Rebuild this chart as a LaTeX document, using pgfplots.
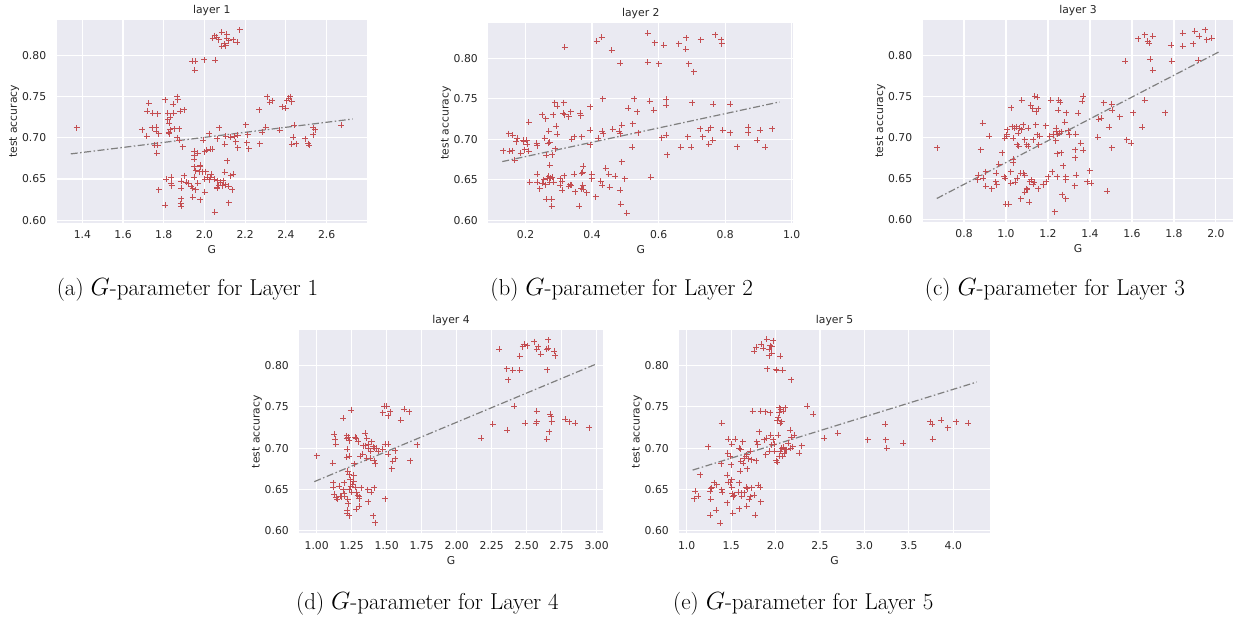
\documentclass[border=0pt]{standalone}
\usepackage{pgfplots}
\pgfplotsset{compat=1.18}
\usepackage{fontspec}
\newfontfamily\dejavu{DejaVu Sans}

\definecolor{sbbg}{HTML}{EAEAF2}
\definecolor{sbred}{HTML}{C44E52}
\definecolor{sbtext}{HTML}{262626}
\definecolor{sbgray}{HTML}{7F7F7F}

\newcommand\sbfont{\dejavu\fontsize{10.8}{13}\selectfont}

\pgfplotsset{
  sb/.style={
    scale only axis,
    axis background/.style={fill=sbbg},
    axis line style={draw=none},
    major tick length=0pt,
    grid=major,
    grid style={white, line width=1.2pt},
    ymin=0.597, ymax=0.843,
    ytick={0.60,0.65,0.70,0.75,0.80},
    /pgf/number format/assume math mode=true,
    tick label style={font=\sbfont, text=sbtext},
    yticklabel style={anchor=east, xshift=-7pt,
      /pgf/number format/fixed, /pgf/number format/fixed zerofill,
      /pgf/number format/precision=2},
    xticklabel style={anchor=base, yshift=-16.3pt,
      /pgf/number format/fixed, /pgf/number format/fixed zerofill},
    every axis title/.style={at={(0.5,1)}, anchor=base, yshift=6.7pt,
      font=\sbfont, text=sbtext},
    every axis x label/.style={at={(0.5,0)}, anchor=base, yshift=-31pt,
      font=\sbfont, text=sbtext},
    every axis y label/.style={at={(0,0.5)}, xshift=-39.7pt, rotate=90, anchor=base,
      font=\sbfont, text=sbtext},
    xlabel={G}, ylabel={test accuracy},
  },
  pts/.style={only marks, mark=+, mark size=3pt, color=sbred,
    mark options={line width=0.9pt}},
  fit/.style={no marks, sbgray, line width=1.2pt,
    dash pattern=on 7pt off 2.5pt on 1.5pt off 2.5pt},
}

\begin{document}
\begin{tikzpicture}
\useasboundingbox (0,0) rectangle (1235pt,619pt);

% layer 1
\begin{axis}[sb, at={(56.7pt,396.3pt)}, anchor=south west,
  width=310pt, height=202.7pt, xmin=1.274, xmax=2.797,
  xtick={1.4,1.6,1.8,2.0,2.2,2.4,2.6},
  xticklabel style={/pgf/number format/precision=1}, title={layer 1}]
\addplot[pts] coordinates {
(2.174,0.831) (2.085,0.828) (2.05,0.824) (2.06,0.822) (2.11,0.826) (2.11,0.821) (2.04,0.821)
(2.07,0.819) (2.12,0.818) (2.14,0.819) (2.16,0.816) (2.085,0.811) (2.105,0.812) (2.10,0.814)
(1.94,0.793) (1.955,0.793) (1.998,0.795) (2.053,0.794) (1.953,0.782)
(1.865,0.750) (1.868,0.746) (1.806,0.746) (1.727,0.742) (1.847,0.741) (1.719,0.732) (1.746,0.730)
(1.771,0.729) (1.82,0.730) (1.849,0.730) (1.880,0.732) (1.90,0.734) (1.82,0.722) (1.831,0.725)
(1.828,0.718) (1.693,0.710) (1.742,0.712) (1.763,0.713) (1.716,0.702) (1.763,0.708) (1.775,0.705)
(1.824,0.707) (1.831,0.710) (1.852,0.711) (1.876,0.711) (1.865,0.700) (1.876,0.697) (1.893,0.689)
(1.756,0.691) (1.771,0.691) (1.766,0.681) (1.828,0.705)
(1.372,0.712)
(2.268,0.734) (2.307,0.750) (2.32,0.743) (2.332,0.745) (2.381,0.738) (2.40,0.736) (2.405,0.745)
(2.415,0.748) (2.421,0.750) (2.429,0.744) (2.202,0.716) (2.30,0.713) (2.283,0.707) (2.369,0.709)
(2.272,0.693) (2.213,0.704) (2.207,0.694) (2.218,0.687) (2.44,0.715) (2.437,0.701) (2.429,0.692)
(2.45,0.693) (2.494,0.699) (2.51,0.693) (2.515,0.691) (2.535,0.712) (2.543,0.710) (2.535,0.704)
(2.673,0.715) (2.164,0.703) (2.164,0.688) (2.145,0.702) (2.153,0.695) (2.128,0.701) (2.104,0.702)
(2.072,0.712) (2.023,0.705) (2.063,0.699) (1.995,0.697) (2.099,0.692) (2.01,0.685) (2.028,0.686)
(2.039,0.686) (2.002,0.683) (1.95,0.684) (1.95,0.679) (1.966,0.681) (1.95,0.674) (2.112,0.672)
(1.979,0.667) (1.979,0.665) (1.95,0.665) (1.958,0.660) (1.975,0.659) (1.99,0.659) (2.007,0.659)
(2.099,0.658) (2.128,0.654) (2.14,0.656) (1.90,0.654) (1.836,0.652) (1.811,0.650) (1.95,0.652)
(2.015,0.652) (2.031,0.652) (2.034,0.656) (2.047,0.650) (2.002,0.650) (2.023,0.649) (1.887,0.647)
(1.911,0.646) (1.919,0.645) (1.966,0.645) (2.063,0.648) (2.079,0.646) (2.092,0.648) (1.836,0.645)
(1.839,0.642) (2.071,0.642) (2.104,0.643) (2.12,0.641) (1.935,0.641) (1.943,0.639) (1.887,0.639)
(2.063,0.639) (2.087,0.642) (2.136,0.637) (1.958,0.637) (1.776,0.637) (2.002,0.634) (2.063,0.640)
(1.943,0.628) (1.887,0.626) (1.883,0.620) (1.887,0.617) (1.979,0.625) (1.808,0.618) (2.12,0.621)
(2.05,0.610)
};
\addplot[fit] coordinates {(1.343,0.6805) (2.728,0.7228)};
\end{axis}

% layer 2
\begin{axis}[sb, at={(488.3pt,396.3pt)}, anchor=south west,
  width=305pt, height=199.4pt, xmin=0.088, xmax=1.005,
  xtick={0.2,0.4,0.6,0.8,1.0},
  xticklabel style={/pgf/number format/precision=1}, title={layer 2}]
\addplot[pts] coordinates {
(0.567,0.831) (0.318,0.8135) (0.414,0.821) (0.429,0.826) (0.459,0.810) (0.484,0.794) (0.567,0.795)
(0.588,0.819) (0.615,0.816) (0.601,0.793) (0.661,0.818) (0.683,0.825) (0.681,0.811) (0.691,0.793)
(0.706,0.783) (0.726,0.823) (0.771,0.829) (0.788,0.823) (0.790,0.818)
(0.288,0.745) (0.315,0.745) (0.295,0.741) (0.432,0.750) (0.527,0.750) (0.573,0.747) (0.623,0.749)
(0.623,0.742) (0.701,0.745) (0.765,0.743) (0.815,0.743) (0.395,0.740) (0.509,0.738) (0.536,0.734)
(0.585,0.736) (0.336,0.734) (0.313,0.732) (0.318,0.730) (0.330,0.728) (0.364,0.732) (0.366,0.729)
(0.250,0.730) (0.283,0.730) (0.260,0.725) (0.210,0.721) (0.292,0.716) (0.270,0.710) (0.295,0.706)
(0.347,0.703) (0.369,0.703) (0.339,0.700) (0.394,0.711) (0.431,0.710) (0.434,0.707) (0.462,0.712)
(0.482,0.710) (0.489,0.717) (0.522,0.719) (0.539,0.708) (0.484,0.707) (0.419,0.701) (0.394,0.693)
(0.521,0.690) (0.489,0.672)
(0.133,0.686) (0.150,0.707) (0.152,0.685) (0.160,0.686) (0.162,0.705) (0.175,0.701) (0.172,0.697)
(0.168,0.674) (0.185,0.683) (0.193,0.699) (0.195,0.697) (0.203,0.699) (0.205,0.694) (0.198,0.687)
(0.210,0.685) (0.233,0.695) (0.235,0.692) (0.257,0.701) (0.272,0.696) (0.268,0.695) (0.290,0.688)
(0.262,0.680) (0.280,0.681) (0.272,0.668)
(0.610,0.702) (0.623,0.705) (0.626,0.681) (0.666,0.690) (0.688,0.703) (0.698,0.690) (0.725,0.713)
(0.733,0.703) (0.751,0.694) (0.749,0.711) (0.757,0.714) (0.763,0.699) (0.793,0.711) (0.815,0.708)
(0.837,0.691) (0.870,0.715) (0.870,0.708) (0.897,0.699) (0.905,0.711) (0.920,0.690) (0.942,0.713)
(0.213,0.647) (0.235,0.647) (0.235,0.657) (0.243,0.639) (0.250,0.646) (0.255,0.650) (0.260,0.644)
(0.265,0.652) (0.270,0.654) (0.275,0.652) (0.273,0.647) (0.285,0.647) (0.280,0.653) (0.262,0.626)
(0.278,0.626) (0.278,0.617) (0.305,0.651) (0.310,0.648) (0.305,0.643) (0.310,0.637) (0.317,0.655)
(0.330,0.642) (0.335,0.644) (0.338,0.643) (0.347,0.657) (0.350,0.635) (0.369,0.658) (0.372,0.659)
(0.374,0.667) (0.372,0.643) (0.367,0.639) (0.374,0.638) (0.362,0.617) (0.384,0.634) (0.399,0.657)
(0.399,0.651) (0.411,0.629) (0.426,0.648) (0.431,0.643) (0.441,0.664) (0.450,0.657) (0.453,0.641)
(0.470,0.654) (0.485,0.637) (0.486,0.620) (0.498,0.651) (0.504,0.609) (0.576,0.653)
};
\addplot[fit] coordinates {(0.130,0.6724) (0.964,0.746)};
\end{axis}

% layer 3
\begin{axis}[sb, at={(922.7pt,397.3pt)}, anchor=south west,
  width=310.6pt, height=201.7pt, xmin=0.603, xmax=2.083,
  xtick={0.8,1.0,1.2,1.4,1.6,1.8,2.0},
  xticklabel style={/pgf/number format/precision=1}, title={layer 3}]
\addplot[pts] coordinates {
(1.948,0.831) (1.900,0.829) (1.842,0.827) (1.921,0.823) (1.956,0.819) (1.981,0.821) (1.892,0.814)
(1.842,0.811) (1.786,0.812) (1.660,0.825) (1.631,0.820) (1.675,0.817) (1.683,0.815) (1.699,0.823)
(1.568,0.793) (1.688,0.795) (1.699,0.782) (1.789,0.793) (1.916,0.794)
(1.660,0.745) (1.648,0.712) (1.607,0.730) (1.575,0.697) (1.596,0.693) (1.759,0.730) (1.504,0.740)
(1.506,0.733) (1.465,0.742) (1.541,0.725) (1.441,0.722) (1.453,0.723) (1.493,0.712) (1.438,0.700)
(1.504,0.687) (1.481,0.634)
(0.673,0.687) (0.889,0.717) (0.879,0.685) (0.920,0.701) (0.983,0.681) (1.026,0.736) (1.030,0.713)
(1.042,0.711) (0.994,0.699) (1.003,0.701) (1.006,0.709) (1.003,0.703) (1.034,0.699) (1.050,0.713)
(1.058,0.705) (1.066,0.711) (1.053,0.691) (1.061,0.689) (1.074,0.709) (1.082,0.715) (1.074,0.745)
(1.106,0.711) (1.090,0.697) (1.098,0.691) (1.106,0.689) (1.117,0.739) (1.128,0.735) (1.129,0.697)
(1.137,0.750) (1.148,0.749) (1.142,0.715) (1.145,0.731) (1.153,0.735) (1.148,0.703) (1.156,0.691)
(1.161,0.701) (1.189,0.714) (1.212,0.745) (1.208,0.701) (1.224,0.703) (1.251,0.745) (1.259,0.743)
(1.248,0.733) (1.240,0.711) (1.240,0.707) (1.243,0.704) (1.237,0.696) (1.253,0.705) (1.264,0.707)
(1.280,0.718) (1.288,0.730) (1.296,0.708) (1.301,0.703) (1.245,0.680) (1.264,0.681) (1.332,0.704)
(1.343,0.729) (1.356,0.693) (1.362,0.744) (1.367,0.750) (1.367,0.684) (1.330,0.685) (1.330,0.675)
(0.865,0.648) (0.868,0.654) (0.892,0.650) (0.903,0.658) (0.904,0.640) (0.931,0.637) (0.950,0.646)
(0.955,0.642) (0.966,0.667) (0.952,0.656) (0.992,0.652) (0.995,0.650) (0.998,0.618) (1.012,0.618)
(1.023,0.658) (1.022,0.644) (1.034,0.673) (1.034,0.669) (1.045,0.645) (1.053,0.650) (1.069,0.656)
(1.071,0.625) (1.085,0.656) (1.090,0.654) (1.090,0.633) (1.098,0.637) (1.101,0.636) (1.110,0.621)
(1.113,0.646) (1.121,0.648) (1.129,0.643) (1.134,0.645) (1.153,0.637) (1.177,0.642) (1.192,0.646)
(1.200,0.652) (1.219,0.658) (1.243,0.652) (1.232,0.609) (1.268,0.630) (1.272,0.665) (1.285,0.625)
(1.285,0.652) (1.285,0.648) (1.327,0.641) (1.335,0.654) (1.386,0.646) (1.398,0.659) (1.406,0.644)
};
\addplot[fit] coordinates {(0.670,0.6253) (2.016,0.8043)};
\end{axis}

% layer 4
\begin{axis}[sb, at={(299.3pt,85.7pt)}, anchor=south west,
  width=303.4pt, height=203.3pt, xmin=0.876, xmax=3.043,
  xtick={1.00,1.25,1.50,1.75,2.00,2.25,2.50,2.75,3.00},
  xticklabel style={/pgf/number format/precision=2}, title={layer 4}]
\addplot[pts] coordinates {
(2.655,0.831) (2.555,0.829) (2.481,0.826) (2.505,0.824) (2.471,0.823) (2.305,0.820) (2.583,0.823)
(2.655,0.821) (2.643,0.820) (2.571,0.820) (2.600,0.814) (2.698,0.817) (2.703,0.812) (2.450,0.811)
(2.357,0.796) (2.400,0.794) (2.450,0.794) (2.648,0.795) (2.369,0.783)
(2.412,0.751) (2.571,0.745) (2.667,0.741) (2.674,0.738) (2.679,0.732) (2.774,0.735) (2.805,0.732)
(2.845,0.730) (2.945,0.725) (2.488,0.730) (2.567,0.730) (2.571,0.732) (2.257,0.729) (2.362,0.722)
(2.662,0.720) (2.643,0.711) (2.174,0.712)
(1.000,0.691) (1.114,0.682) (1.190,0.736) (1.245,0.746) (1.126,0.717) (1.131,0.711) (1.136,0.705)
(1.214,0.715) (1.214,0.712) (1.226,0.713) (1.233,0.709) (1.219,0.699) (1.231,0.690) (1.214,0.689)
(1.274,0.713) (1.281,0.712) (1.297,0.708) (1.269,0.681) (1.345,0.718) (1.333,0.703) (1.352,0.703)
(1.357,0.712) (1.369,0.705) (1.369,0.700) (1.386,0.696) (1.393,0.708) (1.405,0.702) (1.410,0.700)
(1.381,0.688) (1.357,0.688) (1.310,0.690) (1.329,0.693) (1.412,0.685) (1.417,0.681) (1.429,0.700)
(1.440,0.696) (1.471,0.699) (1.488,0.705) (1.512,0.705) (1.512,0.693) (1.543,0.684) (1.536,0.675)
(1.560,0.687) (1.560,0.697) (1.481,0.751) (1.500,0.751) (1.471,0.743) (1.524,0.744) (1.512,0.739)
(1.626,0.747) (1.660,0.744) (1.600,0.734) (1.667,0.685) (1.719,0.704)
(1.119,0.658) (1.119,0.653) (1.124,0.644) (1.138,0.640) (1.148,0.638) (1.162,0.654) (1.179,0.641)
(1.195,0.645) (1.198,0.658) (1.200,0.642) (1.221,0.638) (1.226,0.633) (1.219,0.625) (1.219,0.621)
(1.231,0.618) (1.221,0.672) (1.233,0.668) (1.238,0.662) (1.243,0.654) (1.233,0.650) (1.250,0.647)
(1.257,0.656) (1.266,0.660) (1.266,0.667) (1.274,0.653) (1.286,0.647) (1.281,0.626) (1.293,0.643)
(1.305,0.641) (1.305,0.639) (1.305,0.630) (1.317,0.652) (1.364,0.650) (1.367,0.635) (1.390,0.647)
(1.412,0.652) (1.405,0.618) (1.417,0.610) (1.488,0.639) (1.190,0.650) (1.167,0.642)
};
\addplot[fit] coordinates {(0.983,0.6595) (2.995,0.8017)};
\end{axis}

% layer 5
\begin{axis}[sb, at={(679.3pt,85.7pt)}, anchor=south west,
  width=310.7pt, height=203.3pt, xmin=0.917, xmax=4.413,
  xtick={1.0,1.5,2.0,2.5,3.0,3.5,4.0},
  xticklabel style={/pgf/number format/precision=1}, title={layer 5}]
\addplot[pts] coordinates {
(1.900,0.832) (1.975,0.830) (1.836,0.826) (1.780,0.822) (1.863,0.821) (1.938,0.824) (1.956,0.823)
(1.930,0.820) (1.758,0.817) (1.956,0.815) (1.926,0.812) (2.050,0.811) (1.908,0.796) (2.005,0.795)
(2.013,0.794) (2.080,0.794) (2.174,0.783)
(1.743,0.745) (1.833,0.745) (1.881,0.744) (1.938,0.743) (2.358,0.751) (2.425,0.741) (1.394,0.730)
(2.043,0.749) (2.058,0.747) (2.106,0.749) (2.088,0.745) (2.031,0.737) (2.020,0.734) (2.050,0.730)
(2.069,0.732) (2.043,0.743)
(2.699,0.718) (2.545,0.712) (3.036,0.710) (3.231,0.729) (3.239,0.710) (3.250,0.700) (3.438,0.706)
(3.738,0.732) (3.764,0.729) (3.768,0.711) (3.861,0.734) (3.936,0.725) (4.030,0.732) (4.169,0.730)
(1.244,0.702) (1.150,0.668) (1.386,0.681) (1.469,0.711) (1.544,0.711) (1.506,0.705) (1.461,0.694)
(1.488,0.690) (1.499,0.680) (1.589,0.700) (1.608,0.699) (1.631,0.708) (1.608,0.684) (1.600,0.672)
(1.638,0.682) (1.649,0.688) (1.668,0.690) (1.675,0.692) (1.694,0.687) (1.683,0.675) (1.713,0.696)
(1.731,0.686) (1.780,0.685) (1.788,0.708) (1.799,0.704) (1.818,0.720) (1.870,0.710) (1.888,0.692)
(1.900,0.712) (1.926,0.696) (1.945,0.716) (1.956,0.704) (1.975,0.710) (1.983,0.705) (1.986,0.696)
(2.005,0.685) (2.020,0.683) (2.031,0.716) (2.043,0.690) (2.050,0.696) (2.069,0.700) (2.080,0.690)
(2.088,0.701) (2.095,0.694) (2.106,0.698) (2.125,0.698) (2.144,0.706) (2.163,0.722) (2.174,0.713)
(2.193,0.702) (2.208,0.716) (2.264,0.694) (2.294,0.703) (2.170,0.700)
(1.094,0.648) (1.083,0.639) (1.131,0.642) (1.263,0.648) (1.270,0.651) (1.270,0.638) (1.281,0.652)
(1.263,0.619) (1.311,0.658) (1.338,0.656) (1.330,0.625) (1.375,0.609) (1.394,0.650) (1.401,0.647)
(1.458,0.667) (1.469,0.659) (1.458,0.634) (1.488,0.658) (1.506,0.662) (1.506,0.653) (1.514,0.645)
(1.525,0.641) (1.533,0.643) (1.518,0.621) (1.581,0.647) (1.589,0.658) (1.589,0.627) (1.619,0.642)
(1.619,0.646) (1.645,0.646) (1.668,0.653) (1.683,0.651) (1.675,0.630) (1.705,0.638) (1.713,0.641)
(1.731,0.652) (1.758,0.643) (1.769,0.619) (1.806,0.655) (1.825,0.653) (1.833,0.635)
};
\addplot[fit] coordinates {(1.067,0.6735) (4.263,0.780)};
\end{axis}

\begin{scope}[every node/.style={anchor=base, inner sep=0pt, font=\fontsize{23}{26}\selectfont}]
\node at (187.5pt,323pt) {(a) $G$-parameter for Layer 1};
\node at (621.7pt,323pt) {(b) $G$-parameter for Layer 2};
\node at (1055pt,323pt) {(c) $G$-parameter for Layer 3};
\node at (427.5pt,10pt) {(d) $G$-parameter for Layer 4};
\node at (803.3pt,10pt) {(e) $G$-parameter for Layer 5};
\end{scope}
\end{tikzpicture}
\end{document}
